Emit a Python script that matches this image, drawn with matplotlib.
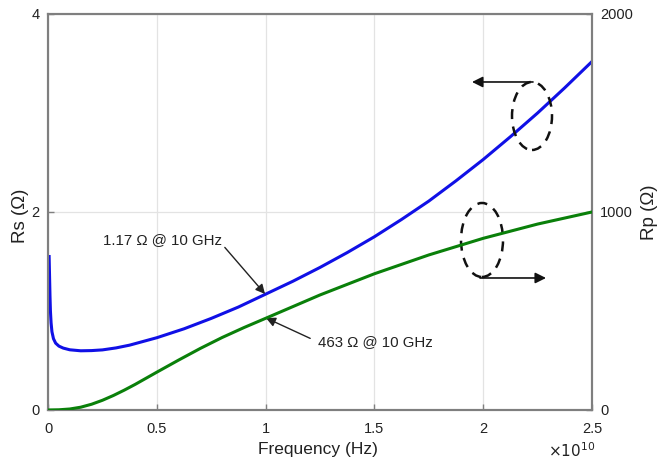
import matplotlib
matplotlib.use("Agg")
import matplotlib.pyplot as plt
from matplotlib.patches import Ellipse

plt.rcParams['font.family'] = ['Liberation Sans', 'DejaVu Sans']

# Rs (left axis) vs frequency (GHz)
rs_freq_ghz = [0.05, 0.07, 0.09, 0.11, 0.14, 0.18, 0.25, 0.35, 0.5, 0.7, 1.0, 1.5,
               2.0, 2.5, 3.125, 3.75, 5.0, 6.25, 7.5, 8.75, 10.0, 11.25, 12.5,
               13.75, 15.0, 16.25, 17.5, 18.75, 20.0, 21.25, 22.5, 23.75, 25.0]
rs_ohm = [1.55, 1.35, 1.15, 1.00, 0.88, 0.79, 0.72, 0.675, 0.645, 0.625, 0.608, 0.598,
          0.600, 0.607, 0.627, 0.655, 0.73, 0.82, 0.925, 1.04, 1.17, 1.30, 1.44,
          1.59, 1.75, 1.925, 2.11, 2.315, 2.53, 2.76, 3.00, 3.255, 3.52]

# Rp (right axis) vs frequency (GHz)
rp_freq_ghz = [0.0, 0.5, 1.0, 1.5, 2.0, 2.5, 3.0, 3.5, 4.0, 4.5, 5.0, 6.0, 7.0, 8.0,
               9.0, 10.0, 12.5, 15.0, 17.5, 20.0, 22.5, 25.0]
rp_ohm = [0, 1, 5, 14, 29, 49, 73, 100, 129, 160, 191, 252, 311, 366,
          416, 463, 581, 688, 783, 867, 939, 1000]

xtick_vals = [0, 0.5e10, 1e10, 1.5e10, 2e10, 2.5e10]
xtick_labels = ['0', '0.5', '1', '1.5', '2', '2.5']
rs_ticks = [0, 2, 4]
rp_ticks = [0, 1000, 2000]

fig = plt.figure(figsize=(6.58, 4.63), dpi=100)
ax = fig.add_axes([0.073, 0.1145, 0.8267, 0.8553])
ax2 = ax.twinx()

spine_c = '#7f7f7f'
blue = '#1010e6'
green = '#0a800a'
txt_c = '#222222'

ax.plot([f * 1e9 for f in rs_freq_ghz], rs_ohm, color=blue, lw=2.2, zorder=3)
ax2.plot([f * 1e9 for f in rp_freq_ghz], rp_ohm, color=green, lw=2.2, zorder=3)

ax.set_xlim(0, 2.5e10)
ax.set_ylim(0, 4)
ax2.set_ylim(0, 2000)
ax.set_xticks(xtick_vals)
ax.set_xticklabels(xtick_labels)
ax.set_yticks(rs_ticks)
ax2.set_yticks(rp_ticks)

ax.grid(True, color='#e3e3e3', lw=0.9)
ax.set_axisbelow(True)

for a in (ax, ax2):
    for s in a.spines.values():
        s.set_color(spine_c)
        s.set_linewidth(1.5)
    a.tick_params(direction='in', length=4, width=1, color=spine_c, labelsize=10.5,
                  labelcolor=txt_c, pad=6)
ax.tick_params(axis='x', pad=9)

ax.set_xlabel('Frequency (Hz)', fontsize=12.5, color=txt_c)
ax.xaxis.set_label_coords(0.496, -0.101)
ax.xaxis.label.set_va('center')
ax.set_ylabel('Rs (Ω)', fontsize=13.5, color=txt_c)
ax.yaxis.set_label_coords(-0.05, 0.49)
ax.yaxis.label.set_va('center')
ax2.set_ylabel('Rp (Ω)', fontsize=13.5, color=txt_c)
ax2.yaxis.set_label_coords(1.105, 0.5)
ax2.yaxis.label.set_va('center')

fig.text(0.833, 0.026, r'$\times10^{10}$', fontsize=11, color=txt_c, va='center')

# annotations
def px2d(px, py):
    return ((px - 48) / 217.6 * 1e10, (410 - py) / 99.0)

ax.annotate('1.17 Ω @ 10 GHz', xy=px2d(265, 294), xytext=px2d(103, 240),
            fontsize=10.8, color=txt_c, va='center', ha='left',
            arrowprops=dict(arrowstyle='-|>', color=txt_c, lw=1.0,
                            shrinkA=0, shrinkB=0, mutation_scale=14,
                            relpos=(1.0, 0.2)), zorder=5)
ax.annotate('463 Ω @ 10 GHz', xy=px2d(266, 318), xytext=px2d(318, 342),
            fontsize=10.8, color=txt_c, va='center', ha='left',
            arrowprops=dict(arrowstyle='-|>', color=txt_c, lw=1.0,
                            shrinkA=4, shrinkB=0, mutation_scale=14,
                            relpos=(0.0, 0.5)), zorder=5)

# dashed ellipses and direction arrows
pxw = 1e10 / 217.6
pyh = 1 / 99.0
c1 = px2d(532, 116)
ax.add_patch(Ellipse(c1, 40 * pxw, 68 * pyh, fill=False, ls=(0, (4, 3)),
                     lw=1.8, color='#111111', zorder=6))
ax.annotate('', xy=px2d(472, 82), xytext=px2d(533, 82),
            arrowprops=dict(arrowstyle='-|>', color='#111111', lw=1.2,
                            shrinkA=0, shrinkB=0, mutation_scale=16), zorder=6)
c2 = px2d(482, 240)
ax.add_patch(Ellipse(c2, 42 * pxw, 74 * pyh, fill=False, ls=(0, (4, 3)),
                     lw=1.8, color='#111111', zorder=6))
ax.annotate('', xy=px2d(546, 278), xytext=px2d(480, 278),
            arrowprops=dict(arrowstyle='-|>', color='#111111', lw=1.2,
                            shrinkA=0, shrinkB=0, mutation_scale=16), zorder=6)

fig.savefig('out.png', dpi=100)
